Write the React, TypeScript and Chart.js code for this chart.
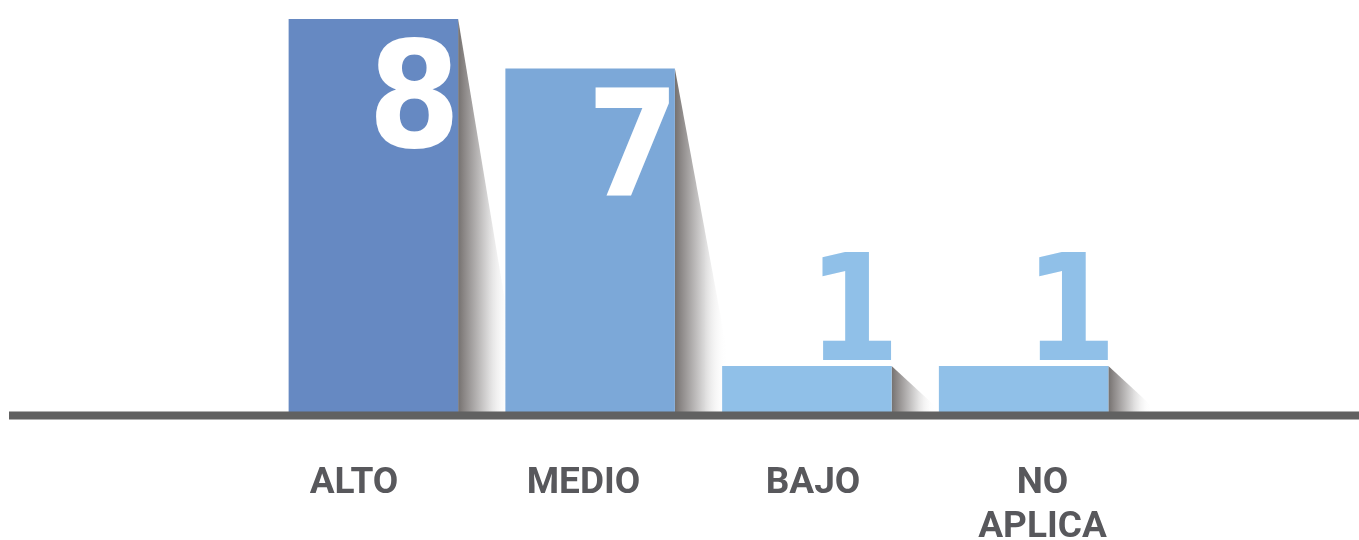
import React, { useEffect, useRef } from 'react';
import { Chart, registerables } from 'chart.js';

Chart.register(...registerables);

const CATEGORIES = ['ALTO', 'MEDIO', 'BAJO', 'NO APLICA'];
const VALUES = [8, 7, 1, 1];
const BAR_COLORS = ['#6689C2', '#7CA8D8', '#90C0E8', '#90C0E8'];
const LABEL_TICKS = [0, 1, 2, 3];

const Y_MAX = 8.1;
const LABEL_MIN = -0.3878;
const LABEL_MAX = 3.39;
const DIGIT_FONT = 'bold 148px "DejaVu Sans Condensed", "DejaVu Sans", sans-serif';

const decorPlugin = {
  id: 'decor',
  beforeDatasetsDraw(chart: any) {
    const ctx = chart.ctx;
    const meta = chart.getDatasetMeta(0);
    ctx.save();
    meta.data.forEach((bar: any) => {
      const { x, y, base, width } = bar.getProps(['x', 'y', 'base', 'width'], true);
      const right = x + width / 2;
      const h = base - y;
      const sw = 52 + 0.035 * h;
      const g = ctx.createLinearGradient(right, 0, right + sw * 0.8, 0);
      g.addColorStop(0, '#75716f');
      g.addColorStop(0.12, '#8c8887');
      g.addColorStop(0.55, '#d6d5d5');
      g.addColorStop(1, 'rgba(255,255,255,0)');
      ctx.fillStyle = g;
      ctx.beginPath();
      ctx.moveTo(right, y);
      ctx.lineTo(right + sw, base);
      ctx.lineTo(right, base);
      ctx.closePath();
      ctx.fill();
    });
    ctx.restore();
  },
  afterDatasetsDraw(chart: any) {
    const ctx = chart.ctx;
    const meta = chart.getDatasetMeta(0);
    const y0 = chart.scales.y.getPixelForValue(0);
    ctx.save();
    ctx.fillStyle = '#616161';
    ctx.fillRect(9, y0 - 4, chart.width - 9, 8);
    ctx.font = DIGIT_FONT;
    ctx.textAlign = 'right';
    ctx.textBaseline = 'alphabetic';
    meta.data.forEach((bar: any, i: number) => {
      const { x, y, base, width } = bar.getProps(['x', 'y', 'base', 'width'], true);
      const right = x + width / 2;
      const inside = base - y > 200;
      const label = String(VALUES[i]);
      const m = ctx.measureText(label);
      if (inside) {
        ctx.fillStyle = '#ffffff';
        const inkRight = right - 5;
        const inkTop = y + 18;
        ctx.fillText(label, inkRight - m.actualBoundingBoxRight, inkTop + m.actualBoundingBoxAscent);
      } else {
        ctx.fillStyle = BAR_COLORS[i];
        const inkRight = right;
        const inkBottom = y - 6;
        ctx.fillText(label, inkRight - m.actualBoundingBoxRight, inkBottom - m.actualBoundingBoxDescent);
      }
    });
    ctx.restore();
  },
};

export default function App() {
  const canvasRef = useRef<HTMLCanvasElement | null>(null);

  useEffect(() => {
    let chart: Chart | null = null;
    let cancelled = false;
    const build = () => {
      if (cancelled || !canvasRef.current) return;
      chart = new Chart(canvasRef.current, {
        type: 'bar',
        data: {
          labels: CATEGORIES,
          datasets: [
            {
              data: VALUES,
              backgroundColor: BAR_COLORS,
              borderWidth: 0,
              barPercentage: 0.782,
              categoryPercentage: 1,
              xAxisID: 'x',
              yAxisID: 'y',
            },
          ],
        },
        options: {
          animation: false,
          responsive: true,
          maintainAspectRatio: false,
          layout: { padding: { left: 265, right: 227, top: 14, bottom: 0 } },
          plugins: { legend: { display: false }, tooltip: { enabled: false } },
          scales: {
            x: { type: 'category', display: false },
            xLab: {
              type: 'linear',
              axis: 'x',
              position: 'bottom',
              bounds: 'data',
              offset: false,
              min: LABEL_MIN,
              max: LABEL_MAX,
              grid: { display: false, drawTicks: false, offset: false },
              border: { display: false },
              afterBuildTicks: (scale: any) => {
                scale.ticks = LABEL_TICKS.map((v) => ({ value: v }));
                scale.min = LABEL_MIN;
                scale.max = LABEL_MAX;
              },
              afterFit: (scale: any) => {
                scale.height = 124.5;
              },
              ticks: {
                autoSkip: false,
                maxRotation: 0,
                includeBounds: false,
                padding: 47,
                color: '#58585c',
                font: { family: 'Roboto', weight: 'bold', size: 37, lineHeight: 1.17 },
                callback: (v: any) => {
                  const c = CATEGORIES[Math.round(Number(v))];
                  return c ? c.split(' ') : '';
                },
              },
            },
            y: { display: false, min: 0, max: Y_MAX },
          },
        },
        plugins: [decorPlugin],
      } as any);
    };
    const fonts: any = (document as any).fonts;
    if (fonts && fonts.load) {
      Promise.all([fonts.load(DIGIT_FONT), fonts.load('bold 37px Roboto')])
        .catch(() => null)
        .then(build);
    } else {
      build();
    }
    return () => {
      cancelled = true;
      if (chart) chart.destroy();
    };
  }, []);

  return (
    <div style={{ position: 'fixed', left: 0, top: 0, width: 1359, height: 540, background: '#ffffff' }}>
      <canvas ref={canvasRef} />
    </div>
  );
}
